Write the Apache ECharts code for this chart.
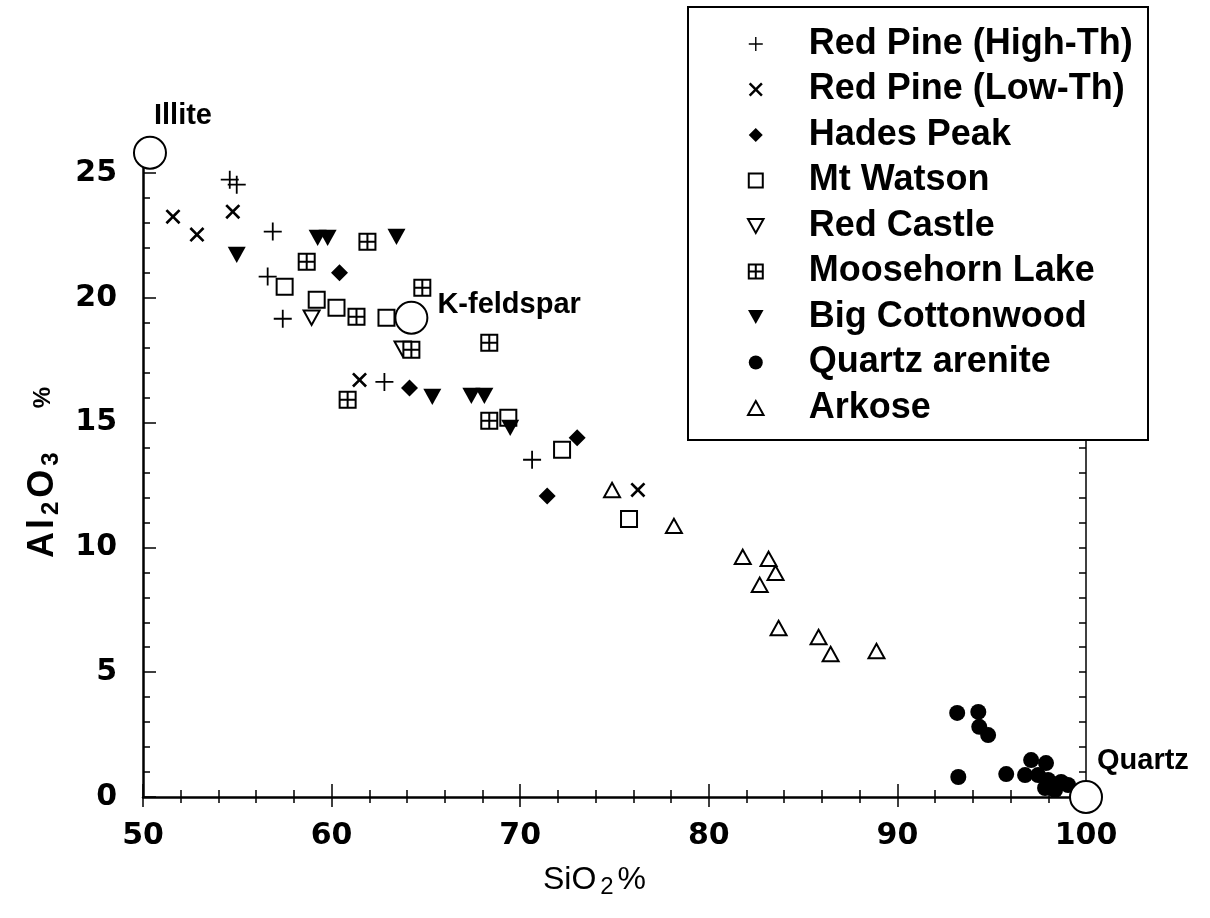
<!DOCTYPE html>
<html>
<head>
<meta charset="utf-8">
<script src="https://cdn.jsdelivr.net/npm/echarts@6/dist/echarts.min.js"></script>
<style>
  html, body { margin: 0; padding: 0; background: #fff; }
  #chart { width: 1210px; height: 918px; }
</style>
</head>
<body>
<div id="chart"></div>
<script>
// SiO2 % / Al2O3 % pairs for each sample group
const redPineHighTh = [[54.60,24.73],[54.97,24.53],[56.88,22.65],[56.61,20.85],[57.41,19.16],[62.80,16.63],[70.63,13.51]];
const redPineLowTh = [[51.59,23.25],[52.86,22.53],[54.76,23.45],[61.48,16.71],[76.24,12.30]];
const hadesPeak = [[60.42,21.00],[64.13,16.39],[73.02,14.39],[71.43,12.06]];
const mtWatson = [[57.51,20.44],[59.21,19.92],[60.26,19.60],[62.91,19.20],[69.37,15.19],[72.22,13.91],[75.77,11.14]];
const redCastle = [[58.94,19.20],[63.76,17.96]];
const mooseHornLake = [[58.68,21.44],[61.90,22.24],[64.81,20.40],[61.32,19.24],[64.23,17.92],[68.36,18.20],[60.85,15.91],[68.36,15.07]];
const bigCottonwood = [[54.97,21.72],[59.26,22.40],[59.79,22.40],[63.44,22.44],[65.34,16.03],[67.41,16.07],[68.10,16.07],[69.47,14.79]];
const quartzArenite = [[93.17,3.37],[94.29,3.41],[94.34,2.81],[94.81,2.48],[93.23,0.80],[95.77,0.92],[97.09,1.48],[97.88,1.36],[96.77,0.88],[97.46,0.88],[97.99,0.68],[98.68,0.60],[97.83,0.36],[99.05,0.48],[98.36,0.28]];
const arkose = [[74.87,12.30],[78.15,10.86],[81.80,9.62],[83.17,9.54],[83.54,8.98],[82.70,8.50],[83.70,6.77],[85.82,6.41],[86.46,5.73],[88.89,5.85]];

// Mineral end-members
const endmemberNames = ['Illite', 'K-feldspar', 'Quartz'];
const endmemberValues = [[50.37,25.81],[64.23,19.20],[100,0]];

// Axis tick labels
const xTickLabels = [50, 60, 70, 80, 90, 100];
const yTickLabels = [0, 5, 10, 15, 20, 25];

const groupNames = ['Red Pine (High-Th)', 'Red Pine (Low-Th)', 'Hades Peak', 'Mt Watson',
  'Red Castle', 'Moosehorn Lake', 'Big Cottonwood', 'Quartz arenite', 'Arkose'];
const groupData = [redPineHighTh, redPineLowTh, hadesPeak, mtWatson, redCastle,
  mooseHornLake, bigCottonwood, quartzArenite, arkose];

// Marker shapes (drawn in a 20x20 box)
const SYM = {
  plus: 'path://M9,0H11V9H20V11H11V20H9V11H0V9H9Z',
  cross: 'path://M2.5,0L10,7.5L17.5,0L20,2.5L12.5,10L20,17.5L17.5,20L10,12.5L2.5,20L0,17.5L7.5,10L0,2.5Z',
  diamond: 'path://M10,0L20,10L10,20L0,10Z',
  square: 'path://M0,0H20V20H0Z',
  triDown: 'path://M0,0H20L10,18Z',
  boxCross: 'path://M0,0H20V20H0Z M10,0V20 M0,10H20',
  circle: 'path://M10,0A10,10 0 1,1 10,20A10,10 0 1,1 10,0Z',
  triUp: 'path://M10,0L20,18H0Z'
};
const markerStyles = [
  { symbol: SYM.plus, size: 18, fill: '#000', border: 0 },
  { symbol: SYM.cross, size: 15, fill: '#000', border: 0 },
  { symbol: SYM.diamond, size: 17, fill: '#000', border: 0 },
  { symbol: SYM.square, size: 16, fill: '#fff', border: 2 },
  { symbol: SYM.triDown, size: 16, fill: '#fff', border: 2 },
  { symbol: SYM.boxCross, size: 16, fill: '#fff', border: 2 },
  { symbol: SYM.triDown, size: 18, fill: '#000', border: 0 },
  { symbol: SYM.circle, size: 16, fill: '#000', border: 0 },
  { symbol: SYM.triUp, size: 16, fill: '#fff', border: 2 }
];

const FONT = 'Liberation Sans, Arial, sans-serif';
const TICK_FONT = 'DejaVu Sans, sans-serif';

const series = groupNames.map((name, i) => ({
  name,
  type: 'scatter',
  data: groupData[i],
  symbol: markerStyles[i].symbol,
  symbolSize: markerStyles[i].size,
  symbolKeepAspect: true,
  itemStyle: {
    color: markerStyles[i].fill,
    borderColor: '#000',
    borderWidth: markerStyles[i].border,
    opacity: 1
  },
  emphasis: { disabled: true },
  z: 3
}));

// label placement for each end-member name
const endmemberLabelOffsets = [[-18, -37], [4, -13], [-11, -36]];
series.push({
  name: 'Endmembers',
  type: 'scatter',
  clip: false,
  symbol: 'circle',
  symbolSize: 32,
  itemStyle: { color: '#fff', borderColor: '#000', borderWidth: 2, opacity: 1 },
  label: {
    show: true,
    position: 'right',
    distance: 5,
    formatter: '{b}',
    fontFamily: FONT,
    fontWeight: 'bold',
    fontSize: 29,
    color: '#000'
  },
  data: endmemberValues.map((v, i) => ({
    name: endmemberNames[i],
    value: v,
    label: { offset: endmemberLabelOffsets[i] }
  })),
  emphasis: { disabled: true },
  z: 5
});

const option = {
  animation: false,
  backgroundColor: '#fff',
  grid: { left: 143, right: 124, top: 148, bottom: 121, containLabel: false },
  xAxis: [
    {
      type: 'value', position: 'bottom', min: 50, max: 100, interval: 10,
      axisLine: { show: true, lineStyle: { color: '#000', width: 2.5 } },
      axisTick: { show: true, inside: true, length: 13, lineStyle: { color: '#000', width: 1.5 } },
      minorTick: { show: true, splitNumber: 5, length: 7, lineStyle: { color: '#000', width: 1.5 } },
      splitLine: { show: false },
      axisLabel: {
        margin: 24,
        fontFamily: TICK_FONT, fontWeight: 'bold', fontSize: 30, color: '#000',
        formatter: v => (xTickLabels.includes(v) ? String(v) : '')
      },
      name: '{a|SiO}{s|2}{a|%}',
      nameLocation: 'middle',
      nameGap: 64,
      nameTextStyle: {
        padding: [0, 40, 0, 0],
        rich: {
          a: { fontFamily: FONT, fontSize: 32, color: '#000' },
          s: { fontFamily: FONT, fontSize: 24, color: '#000', padding: [14, 4, 0, 4] }
        }
      }
    },
    {
      type: 'value', position: 'top', min: 50, max: 100, interval: 10,
      axisLine: { show: true, lineStyle: { color: '#000', width: 1.2 } },
      axisTick: { show: true, inside: true, length: 10, lineStyle: { color: '#000', width: 1.5 } },
      minorTick: { show: true, splitNumber: 5, length: 6, lineStyle: { color: '#000', width: 1.5 } },
      splitLine: { show: false },
      axisLabel: { show: false }
    }
  ],
  yAxis: [
    {
      type: 'value', position: 'left', min: 0, max: 26, interval: 1,
      axisLine: { show: true, lineStyle: { color: '#000', width: 2.5 } },
      axisTick: { show: true, inside: true, length: 7, lineStyle: { color: '#000', width: 1.5 } },
      splitLine: { show: false },
      axisLabel: {
        margin: 26,
        fontFamily: TICK_FONT, fontWeight: 'bold', fontSize: 30, color: '#000',
        formatter: v => (yTickLabels.includes(v) ? String(v) : '')
      },
      name: '{a|A}{b|l}{s|2}{a|O}{s|3}{p|%}',
      nameLocation: 'middle',
      nameGap: 80,
      nameTextStyle: {
        rich: {
          a: { fontFamily: FONT, fontWeight: 'bold', fontSize: 36, color: '#000' },
          b: { fontFamily: FONT, fontWeight: 'bold', fontSize: 36, color: '#000', padding: [0, 0, 0, 3] },
          s: { fontFamily: FONT, fontWeight: 'bold', fontSize: 24, color: '#000', padding: [16, 4, 0, 4] },
          p: { fontFamily: FONT, fontWeight: 'bold', fontSize: 24, color: '#000', padding: [0, 0, 0, 40] }
        }
      }
    },
    {
      type: 'value', position: 'left', min: 0, max: 26, interval: 5,
      axisLine: { show: false },
      axisTick: { show: true, inside: true, length: 13, lineStyle: { color: '#000', width: 1.5 } },
      splitLine: { show: false },
      axisLabel: { show: false }
    },
    {
      type: 'value', position: 'right', min: 0, max: 26, interval: 1,
      axisLine: { show: true, lineStyle: { color: '#000', width: 1.5 } },
      axisTick: { show: true, inside: true, length: 7, lineStyle: { color: '#000', width: 1.5 } },
      splitLine: { show: false },
      axisLabel: { show: false }
    }
  ],
  legend: {
    orient: 'vertical',
    left: 747,
    top: 26,
    padding: 0,
    itemWidth: 96,
    itemHeight: 14,
    itemGap: 9.5,
    selectedMode: false,
    z: 12,
    data: groupNames,
    textStyle: { fontFamily: FONT, fontWeight: 'bold', fontSize: 36, color: '#000', lineHeight: 34 }
  },
  graphic: [
    {
      type: 'rect',
      left: 687,
      top: 6,
      z: 11,
      shape: { width: 460, height: 433 },
      style: { fill: '#fff', stroke: '#000', lineWidth: 2 }
    }
  ],
  series
};

const chart = echarts.init(document.getElementById('chart'), null, { renderer: 'canvas' });
chart.setOption(option);
</script>
</body>
</html>
